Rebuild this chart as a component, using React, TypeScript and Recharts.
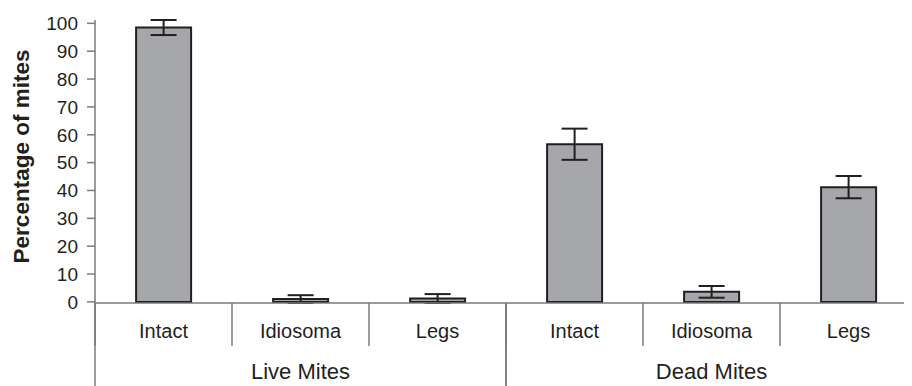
import React from "react";
import { BarChart, Bar, XAxis, YAxis, ErrorBar, Label } from "recharts";

const parts = ["Intact", "Idiosoma", "Legs", "Intact", "Idiosoma", "Legs"];
const groups = ["Live Mites", "Live Mites", "Live Mites", "Dead Mites", "Dead Mites", "Dead Mites"];
const values = [98.5, 1.0, 1.2, 56.6, 3.6, 41.2];
const errors = [2.7, 1.4, 1.6, 5.6, 2.1, 4.0];
const yTicks = [0, 10, 20, 30, 40, 50, 60, 70, 80, 90, 100];

const data = parts.map((p, i) => ({ part: p, group: groups[i], value: values[i], err: errors[i] }));

const FONT = "Liberation Sans, Arial, sans-serif";
const TEXT = "#231f20";
const AXIS = "#7a7a7a";

const PartTick = (props: any) => {
  const { x, y, payload } = props;
  const half = payload && payload.offset ? payload.offset : 68.5;
  return (
    <g>
      <line x1={x - half} x2={x - half} y1={y - 8} y2={y + 35} stroke={AXIS} strokeWidth={1.5} />
      <text x={x} y={y + 27} textAnchor="middle" fontSize={20} fontFamily={FONT} fill={TEXT}>
        {payload.value}
      </text>
    </g>
  );
};

const GroupTick = (props: any) => {
  const { x, y, payload } = props;
  const half = payload && payload.offset ? payload.offset : 205.5;
  return (
    <g>
      <line x1={x - half} x2={x - half} y1={y - 51} y2={y + 40} stroke={AXIS} strokeWidth={1.5} />
      <line x1={x + half} x2={x + half} y1={y - 51} y2={y + 40} stroke={AXIS} strokeWidth={1.5} />
      <text x={x} y={y + 25} textAnchor="middle" fontSize={22} fontFamily={FONT} fill={TEXT}>
        {payload.value}
      </text>
    </g>
  );
};

export default function App() {
  return (
    <div style={{ margin: "-8px 0 0 -8px", width: 912, height: 386, overflow: "hidden", background: "#fff" }}>
      <BarChart
        width={930}
        height={386}
        data={data}
        margin={{ top: 20, right: 13, left: 0, bottom: 0 }}
        barCategoryGap="30%"
      >
        <YAxis
          domain={[0, 100]}
          ticks={yTicks}
          interval={0}
          width={95}
          axisLine={{ stroke: AXIS, strokeWidth: 1.5 }}
          tickLine={{ stroke: AXIS, strokeWidth: 1.5 }}
          tickSize={8}
          tickMargin={9}
          tick={{ fontSize: 19, fontFamily: FONT, fill: TEXT }}
        >
          <Label
            value="Percentage of mites"
            angle={-90}
            position="insideLeft"
            offset={21}
            dy={-5}
            style={{ fontSize: 22.5, fontWeight: "bold", fontFamily: FONT, fill: TEXT, textAnchor: "middle" }}
          />
        </YAxis>
        <XAxis
          dataKey="part"
          height={43}
          interval={0}
          axisLine={{ stroke: AXIS, strokeWidth: 1.5 }}
          tickLine={false}
          tick={<PartTick />}
        />
        <XAxis
          xAxisId="group"
          dataKey="group"
          allowDuplicatedCategory={false}
          height={40}
          interval={0}
          axisLine={false}
          tickLine={false}
          tick={<GroupTick />}
        />
        <Bar dataKey="value" fill="#a6a7aa" stroke={TEXT} strokeWidth={2} isAnimationActive={false}>
          <ErrorBar dataKey="err" width={13} stroke={TEXT} strokeWidth={2} direction="y" />
        </Bar>
      </BarChart>
    </div>
  );
}
